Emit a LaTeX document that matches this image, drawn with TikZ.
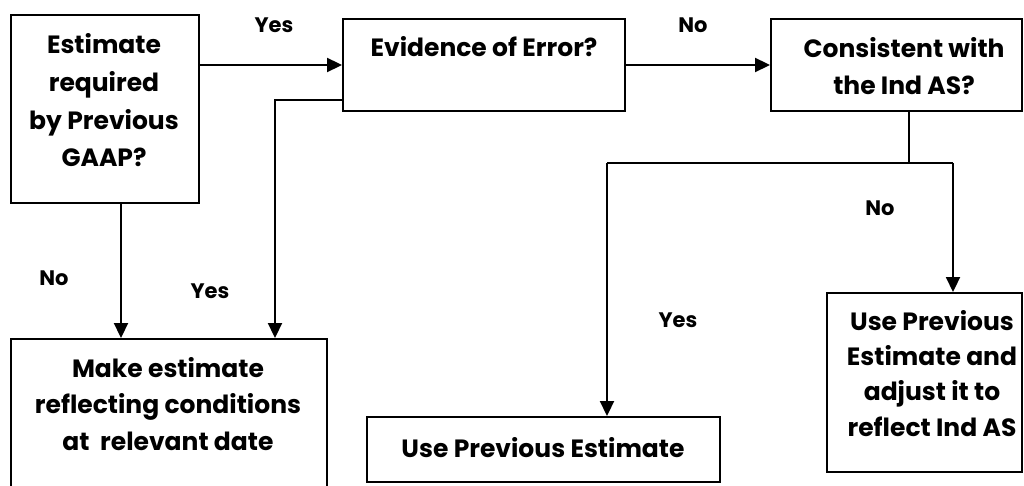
\documentclass[tikz,border=0pt]{standalone}
\usepackage{fontspec}
\setmainfont{Poppins}
\usetikzlibrary{arrows.meta}
\begin{document}
\begin{tikzpicture}[x=1pt,y=-1pt,
  box/.style={draw, line width=1.9pt, inner sep=0pt},
  txt/.style={inner sep=0pt, align=center, anchor=base,
    font=\fontsize{25}{37}\selectfont\bfseries},
  lbl/.style={inner sep=0pt, anchor=base, font=\fontsize{21}{24}\selectfont\bfseries},
  arr/.style={line width=1.9pt, -{Triangle[length=15pt,width=14pt]}},
  con/.style={line width=1.9pt}]
\useasboundingbox (0,0) rectangle (1024,486);
% boxes
\node[box, minimum width=188pt, minimum height=188pt] (A) at (105,109) {};
\node[box, minimum width=282pt, minimum height=92pt] (B) at (484,65) {};
\node[box, minimum width=251pt, minimum height=92pt] (D) at (896.5,65) {};
\node[box, minimum width=316pt, minimum height=150pt] (C) at (169,414) {};
\node[box, minimum width=353pt, minimum height=65pt] (E) at (543.5,449.5) {};
\node[box, minimum width=195pt, minimum height=179pt] (F) at (924.5,382.5) {};
% texts (base anchor = baseline of last line)
\node[txt] (At) at (104,167) {Estimate\\[0.7pt]required\\[0.7pt]by Previous\\[0.7pt]GAAP?};
\node[txt] (Bt) at (484,57) {Evidence of Error?};
\node[txt] (Dt) at (904,95) {Consistent with\\the Ind AS?};
\node[txt] (Ct) at (168,450) {Make estimate\\[-0.5pt]reflecting conditions\\[-0.5pt]at~ relevant date};
\node[txt] (Et) at (543,457) {Use Previous Estimate};
\node[txt] (Ft) at (932,436) {Use Previous\\[-1.7pt]Estimate and\\[-1.7pt]adjust it to\\[-1.7pt]reflect Ind AS};
% labels
\node[lbl] (y1) at (274,33) {Yes};
\node[lbl] (n1) at (693,33) {No};
\node[lbl] (n2) at (54,285) {No};
\node[lbl] (y2) at (210,298) {Yes};
\node[lbl] (y3) at (678,327) {Yes};
\node[lbl] (n3) at (880,215) {No};
% junctions
\coordinate (jl) at (607,163);
\coordinate (jr) at (953,163);
\coordinate (jm) at (909,163);
% connectors
\draw[arr] (A.east |- B.west) -- (B.west);
\draw[arr] (B.east) -- (D.west);
\draw[arr] ([xshift=16pt]A.south) -- ([xshift=16pt]A.south |- C.north);
\draw[arr] ([yshift=12pt]B.south west) -| ([xshift=106pt]C.north);
\draw[con] (jm |- D.south) -- (jm);
\draw[con] (jl) -- (jr);
\draw[arr] (jl) -- (jl |- E.north);
\draw[arr] (jr) -- (jr |- F.north);
\end{tikzpicture}
\end{document}
